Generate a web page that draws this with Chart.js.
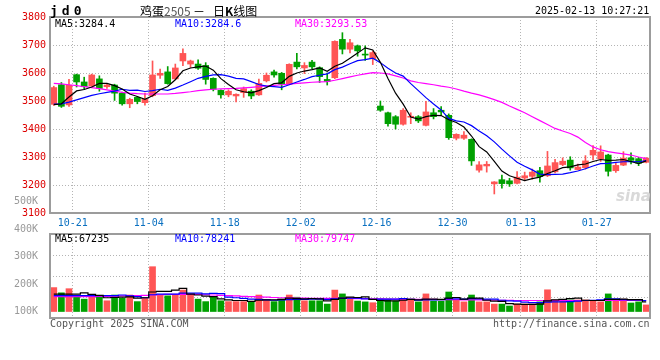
<!DOCTYPE html>
<html>
<head>
<meta charset="utf-8">
<script src="https://cdn.jsdelivr.net/npm/chart.js@4"></script>
<style>
body { margin:0; background:#fff; width:660px; height:360px; overflow:hidden; position:relative; font-family:"DejaVu Sans Mono", monospace; font-size:10px; }
canvas { position:absolute; left:0; top:0; }
.txt { position:absolute; white-space:pre; line-height:12px; }
</style>
</head>
<body>
<canvas id="kChart" width="660" height="360"></canvas>
<canvas id="volChart" width="660" height="360"></canvas>

<div class="txt" style="left:50px;top:4px;font-size:13px;font-weight:bold;letter-spacing:4px;line-height:14px">jd0</div>
<div class="txt" style="left:140px;top:4px;font-family:'Noto Sans CJK SC';font-size:12px;line-height:14px">鸡蛋<span style="color:#555">2505</span></div>
<div class="txt" style="left:193px;top:4px;font-family:'Noto Sans CJK SC';font-size:12px;line-height:14px">－</div>
<div class="txt" style="left:213px;top:4px;font-family:'Noto Sans CJK SC';font-size:12px;line-height:14px">日<b>K</b>线图</div>
<div class="txt" style="left:535px;top:5px">2025-02-13 10:27:21</div>

<div class="txt" style="left:55px;top:18px;color:#000">MA5:3284.4</div>
<div class="txt" style="left:175px;top:18px;color:#0000ff">MA10:3284.6</div>
<div class="txt" style="left:295px;top:18px;color:#ff00ff">MA30:3293.53</div>

<div class="txt" style="left:55px;top:233px;color:#000">MA5:67235</div>
<div class="txt" style="left:175px;top:233px;color:#0000ff">MA10:78241</div>
<div class="txt" style="left:295px;top:233px;color:#ff00ff">MA30:79747</div>

<div class="txt" style="left:50px;top:318px;color:#555">Copyright 2025 SINA.COM</div>
<div class="txt" style="left:493px;top:318px;color:#555">http://finance.sina.com.cn</div>
<div class="txt" style="left:616px;top:190px;color:#d9d9d9;font-family:'DejaVu Sans';font-size:15px;font-style:italic;font-weight:bold">sina</div>

<script>
// ---- data ----
var dates = ['10-16','10-17','10-18',
  '10-21','10-22','10-23','10-24','10-25','10-28','10-29','10-30','10-31','11-01',
  '11-04','11-05','11-06','11-07','11-08','11-11','11-12','11-13','11-14','11-15',
  '11-18','11-19','11-20','11-21','11-22','11-25','11-26','11-27','11-28','11-29',
  '12-02','12-03','12-04','12-05','12-06','12-09','12-10','12-11','12-12','12-13',
  '12-16','12-17','12-18','12-19','12-20','12-23','12-24','12-25','12-26','12-27',
  '12-30','12-31','01-02','01-03','01-06','01-07','01-08','01-09','01-10',
  '01-13','01-14','01-15','01-16','01-17','01-20','01-21','01-22','01-23','01-24',
  '01-27','02-06','02-07','02-10','02-11','02-12','02-13'];

var dateTicks = ['10-21','11-04','11-18','12-02','12-16','12-30','01-13','01-27'];

var open = [3488,3558,3486,3594,3568,3554,3579,3551,3557,3528,
  3490,3513,3494,3519,3592,3604,3579,3643,3632,3632,
  3627,3581,3538,3522,3518,3530,3535,3522,3572,3604,
  3599,3560,3639,3618,3639,3619,3577,3583,3720,3685,
  3697,3667,3651,3482,3458,3444,3417,3442,3444,3413,
  3458,3467,3449,3367,3367,3363,3253,3268,3204,3219,
  3215,3206,3225,3231,3251,3233,3247,3273,3289,3255,
  3262,3307,3293,3307,3251,3271,3297,3294,3281];

var close = [3548,3481,3556,3568,3551,3593,3545,3557,3528,3490,
  3506,3498,3506,3593,3599,3562,3618,3670,3643,3617,
  3577,3542,3522,3535,3524,3544,3518,3563,3592,3593,
  3560,3631,3622,3627,3622,3587,3570,3713,3685,3708,
  3679,3664,3673,3467,3419,3417,3467,3444,3429,3461,
  3444,3461,3369,3381,3378,3286,3272,3274,3211,3205,
  3204,3228,3233,3246,3230,3268,3280,3285,3261,3264,
  3286,3324,3318,3249,3270,3296,3288,3278,3296];

var high = [3553,3566,3577,3596,3585,3596,3590,3561,3560,3532,
  3510,3516,3528,3643,3614,3623,3632,3686,3646,3647,
  3637,3583,3540,3540,3526,3550,3540,3578,3600,3610,
  3602,3633,3670,3637,3645,3622,3600,3715,3744,3720,
  3700,3697,3678,3500,3460,3448,3473,3458,3448,3499,
  3473,3480,3454,3383,3391,3365,3284,3284,3212,3235,
  3224,3248,3246,3257,3263,3320,3292,3297,3301,3275,
  3305,3341,3340,3310,3281,3319,3315,3299,3298];

var low = [3484,3477,3481,3550,3542,3552,3535,3545,3502,3485,
  3476,3490,3485,3515,3581,3560,3577,3626,3620,3613,
  3560,3536,3510,3515,3497,3513,3508,3520,3568,3585,
  3540,3558,3615,3598,3615,3566,3557,3580,3668,3672,
  3660,3645,3630,3463,3410,3400,3414,3419,3423,3411,
  3436,3449,3363,3361,3363,3270,3246,3246,3168,3189,
  3195,3204,3215,3221,3210,3230,3243,3269,3253,3254,
  3257,3290,3284,3232,3245,3269,3275,3269,3279];

var ma5 = [3487,3490,3514,3536,3541,3550,3563,3563,3555,3543,
  3525,3516,3506,3519,3540,3552,3576,3608,3618,3622,
  3625,3610,3580,3559,3540,3533,3529,3537,3548,3562,
  3565,3588,3600,3607,3612,3618,3606,3624,3635,3653,
  3671,3690,3682,3638,3580,3528,3489,3443,3435,3444,
  3449,3448,3433,3423,3407,3375,3337,3318,3284,3250,
  3233,3224,3216,3223,3228,3241,3251,3262,3265,3272,
  3275,3284,3291,3288,3289,3291,3284,3276,3286];

var ma10 = [3489,3490,3496,3504,3512,3520,3526,3531,3535,3542,
  3538,3539,3534,3537,3542,3538,3546,3557,3569,3581,
  3588,3593,3594,3589,3581,3579,3569,3559,3553,3551,
  3549,3558,3568,3577,3587,3592,3597,3612,3621,3633,
  3644,3648,3653,3637,3617,3600,3589,3562,3537,3512,
  3489,3468,3438,3429,3425,3412,3393,3376,3354,3328,
  3304,3281,3267,3254,3239,3237,3238,3239,3244,3250,
  3258,3268,3276,3277,3281,3283,3284,3283,3287];

var ma30 = [3563,3561,3558,3555,3551,3548,3544,3540,3535,3531,
  3528,3526,3525,3525,3525,3525,3527,3530,3533,3537,
  3540,3542,3543,3544,3545,3547,3549,3551,3554,3556,
  3558,3560,3563,3565,3567,3568,3569,3574,3580,3586,
  3592,3597,3601,3600,3597,3590,3582,3572,3566,3562,
  3558,3553,3549,3543,3535,3528,3522,3514,3505,3495,
  3482,3470,3458,3444,3430,3416,3402,3393,3384,3371,
  3352,3336,3326,3319,3315,3311,3307,3300,3294];

var volume = [187000,168000,183000,156000,145000,156000,156000,139000,160000,148000,
  160000,136000,148000,263000,160000,157000,160000,178000,160000,145000,
  136000,152000,139000,136000,136000,136000,136000,160000,142000,136000,
  145000,160000,152000,139000,139000,139000,127000,178000,164000,150000,
  138000,135000,132000,145000,145000,138000,145000,145000,135000,164000,
  138000,138000,171000,142000,135000,160000,135000,135000,127000,127000,
  120000,127000,127000,127000,135000,179000,142000,138000,142000,142000,
  142000,138000,135000,164000,142000,145000,131000,135000,124000];

var volMa5 = [163,163,163,163,168,162,159,150,151,152,
  153,149,150,171,173,173,178,184,163,160,
  156,154,146,142,140,140,137,141,142,142,
  144,149,147,146,147,146,139,144,149,152,
  151,153,144,140,139,139,141,144,142,145,
  145,144,149,151,145,149,149,141,138,137,
  129,127,126,126,127,139,142,144,147,149,
  141,140,140,144,144,145,143,143,135];

var volMa10 = [158,158,158,158,158,158,158,158,158,160,
  157,154,150,161,163,163,163,167,167,167,
  164,166,165,152,150,148,145,144,142,141,
  142,143,144,144,145,145,144,146,148,149,
  149,146,144,145,145,145,147,144,141,142,
  142,143,146,146,145,147,146,145,145,141,
  139,138,134,132,132,134,135,135,136,138,
  140,141,142,146,146,143,142,142,140];

var volMa30 = [154,154,154,154,154,154,155,155,156,157,
  157,158,159,160,161,162,162,162,162,162,
  161,160,159,158,157,155,154,153,152,151,
  150,150,149,149,148,148,148,148,148,148,
  147,147,146,146,145,145,145,144,144,144,
  144,143,143,143,142,142,142,142,141,141,
  141,140,140,140,140,140,140,140,140,140,
  140,140,140,140,140,140,140,140,140];

var priceMin = 3100, priceMax = 3800, priceStep = 100;
var volTicks = [100000, 200000, 300000, 400000, 500000];
var volBase = 100000;

// ---- look ----
var UP = '#ff5555', DOWN = '#00a000';
var GRID = '#b4b4b4';
var monoFont = { family: 'DejaVu Sans Mono', size: 10 };

var candleColors = close.map(function (c, i) { return c >= open[i] ? UP : DOWN; });

function dateGridColor(ctx) {
    return dateTicks.indexOf(dates[ctx.index]) >= 0 ? GRID : 'rgba(0,0,0,0)';
}

// box round each panel
var panelBox = {
    id: 'panelBox',
    afterDraw: function (chart) {
        var a = chart.chartArea, c = chart.ctx;
        c.save();
        c.strokeStyle = '#9c9c9c';
        c.lineWidth = 2;
        c.strokeRect(a.left, a.top, a.right - a.left, a.bottom - a.top);
        c.restore();
    }
};

function lineSet(data, color, stepped) {
    return {
        type: 'line', data: data, borderColor: color, borderWidth: 1.2,
        pointRadius: 0, tension: 0, stepped: stepped || false, order: 0
    };
}

// PRICE CHART
new Chart(document.getElementById('kChart'), {
    data: {
        labels: dates,
        datasets: [
            lineSet(ma5, '#000000'),
            lineSet(ma10, '#0000ff'),
            lineSet(ma30, '#ff00ff'),
            { type: 'bar', data: dates.map(function (d, i) { return [low[i], high[i]]; }),
              backgroundColor: candleColors, barThickness: 1, grouped: false, order: 2 },
            { type: 'bar', data: dates.map(function (d, i) { return [open[i], close[i]]; }),
              backgroundColor: candleColors, barThickness: 6, minBarLength: 1, grouped: false, order: 1 }
        ]
    },
    options: {
        responsive: false, animation: false, devicePixelRatio: 1, events: [],
        layout: { padding: { top: 17, right: 10, left: 0, bottom: 0 } },
        plugins: { legend: { display: false }, tooltip: { enabled: false } },
        scales: {
            x: {
                offset: true,
                grid: { offset: true, color: dateGridColor, drawTicks: false },
                border: { display: false, dash: [1, 2] },
                ticks: {
                    autoSkip: false, maxRotation: 0, color: '#0a70c0', font: monoFont,
                    padding: 4, labelOffset: -3.8,
                    callback: function (v, i) { return dateTicks.indexOf(dates[i]) >= 0 ? dates[i] : ''; }
                },
                afterFit: function (s) { s.height = 147; }
            },
            y: {
                min: priceMin, max: priceMax,
                ticks: {
                    stepSize: priceStep, color: '#dd0000', font: monoFont, padding: 4,
                    callback: function (v) { return String(v); }
                },
                grid: {
                    drawTicks: false,
                    color: function (ctx) {
                        var v = ctx.tick ? ctx.tick.value : null;
                        return (v === priceMin || v === priceMax) ? 'rgba(0,0,0,0)' : GRID;
                    }
                },
                border: { display: false, dash: [1, 2] },
                afterFit: function (s) { s.width = 50; }
            }
        }
    },
    plugins: [panelBox]
});

// VOLUME CHART
new Chart(document.getElementById('volChart'), {
    data: {
        labels: dates,
        datasets: [
            lineSet(volMa5.map(function (v) { return v * 1000; }), '#000000', 'middle'),
            lineSet(volMa10.map(function (v) { return v * 1000; }), '#0000ff', 'middle'),
            lineSet(volMa30.map(function (v) { return v * 1000; }), '#ff00ff', 'middle'),
            { type: 'bar', data: volume, base: volBase, backgroundColor: candleColors,
              barThickness: 6, order: 1 }
        ]
    },
    options: {
        responsive: false, animation: false, devicePixelRatio: 1, events: [],
        layout: { padding: { top: 234, right: 0, left: 0, bottom: 0 } },
        plugins: { legend: { display: false }, tooltip: { enabled: false } },
        scales: {
            x: {
                offset: true,
                grid: { offset: true, color: dateGridColor, drawTicks: false },
                border: { display: false, dash: [1, 2] },
                ticks: { display: false },
                afterFit: function (s) { s.height = 42; }
            },
            y: {
                min: 76400, max: 381900,
                afterBuildTicks: function (s) {
                    s.ticks = volTicks.map(function (v) { return { value: v }; });
                },
                ticks: {
                    color: '#999999', font: monoFont, padding: 4,
                    callback: function (v) { return (v / 1000) + 'K'; }
                },
                grid: { display: false },
                border: { display: false },
                afterFit: function (s) { s.width = 50; }
            },
            yGrid: {
                position: 'right', min: 0, max: 4,
                ticks: { stepSize: 1, display: false },
                grid: {
                    drawTicks: false,
                    color: function (ctx) {
                        var v = ctx.tick ? ctx.tick.value : null;
                        return (v === 0 || v === 4) ? 'rgba(0,0,0,0)' : GRID;
                    }
                },
                border: { display: false, dash: [1, 2] },
                afterFit: function (s) { s.width = 10; }
            }
        }
    },
    plugins: [panelBox]
});
</script>
</body>
</html>
